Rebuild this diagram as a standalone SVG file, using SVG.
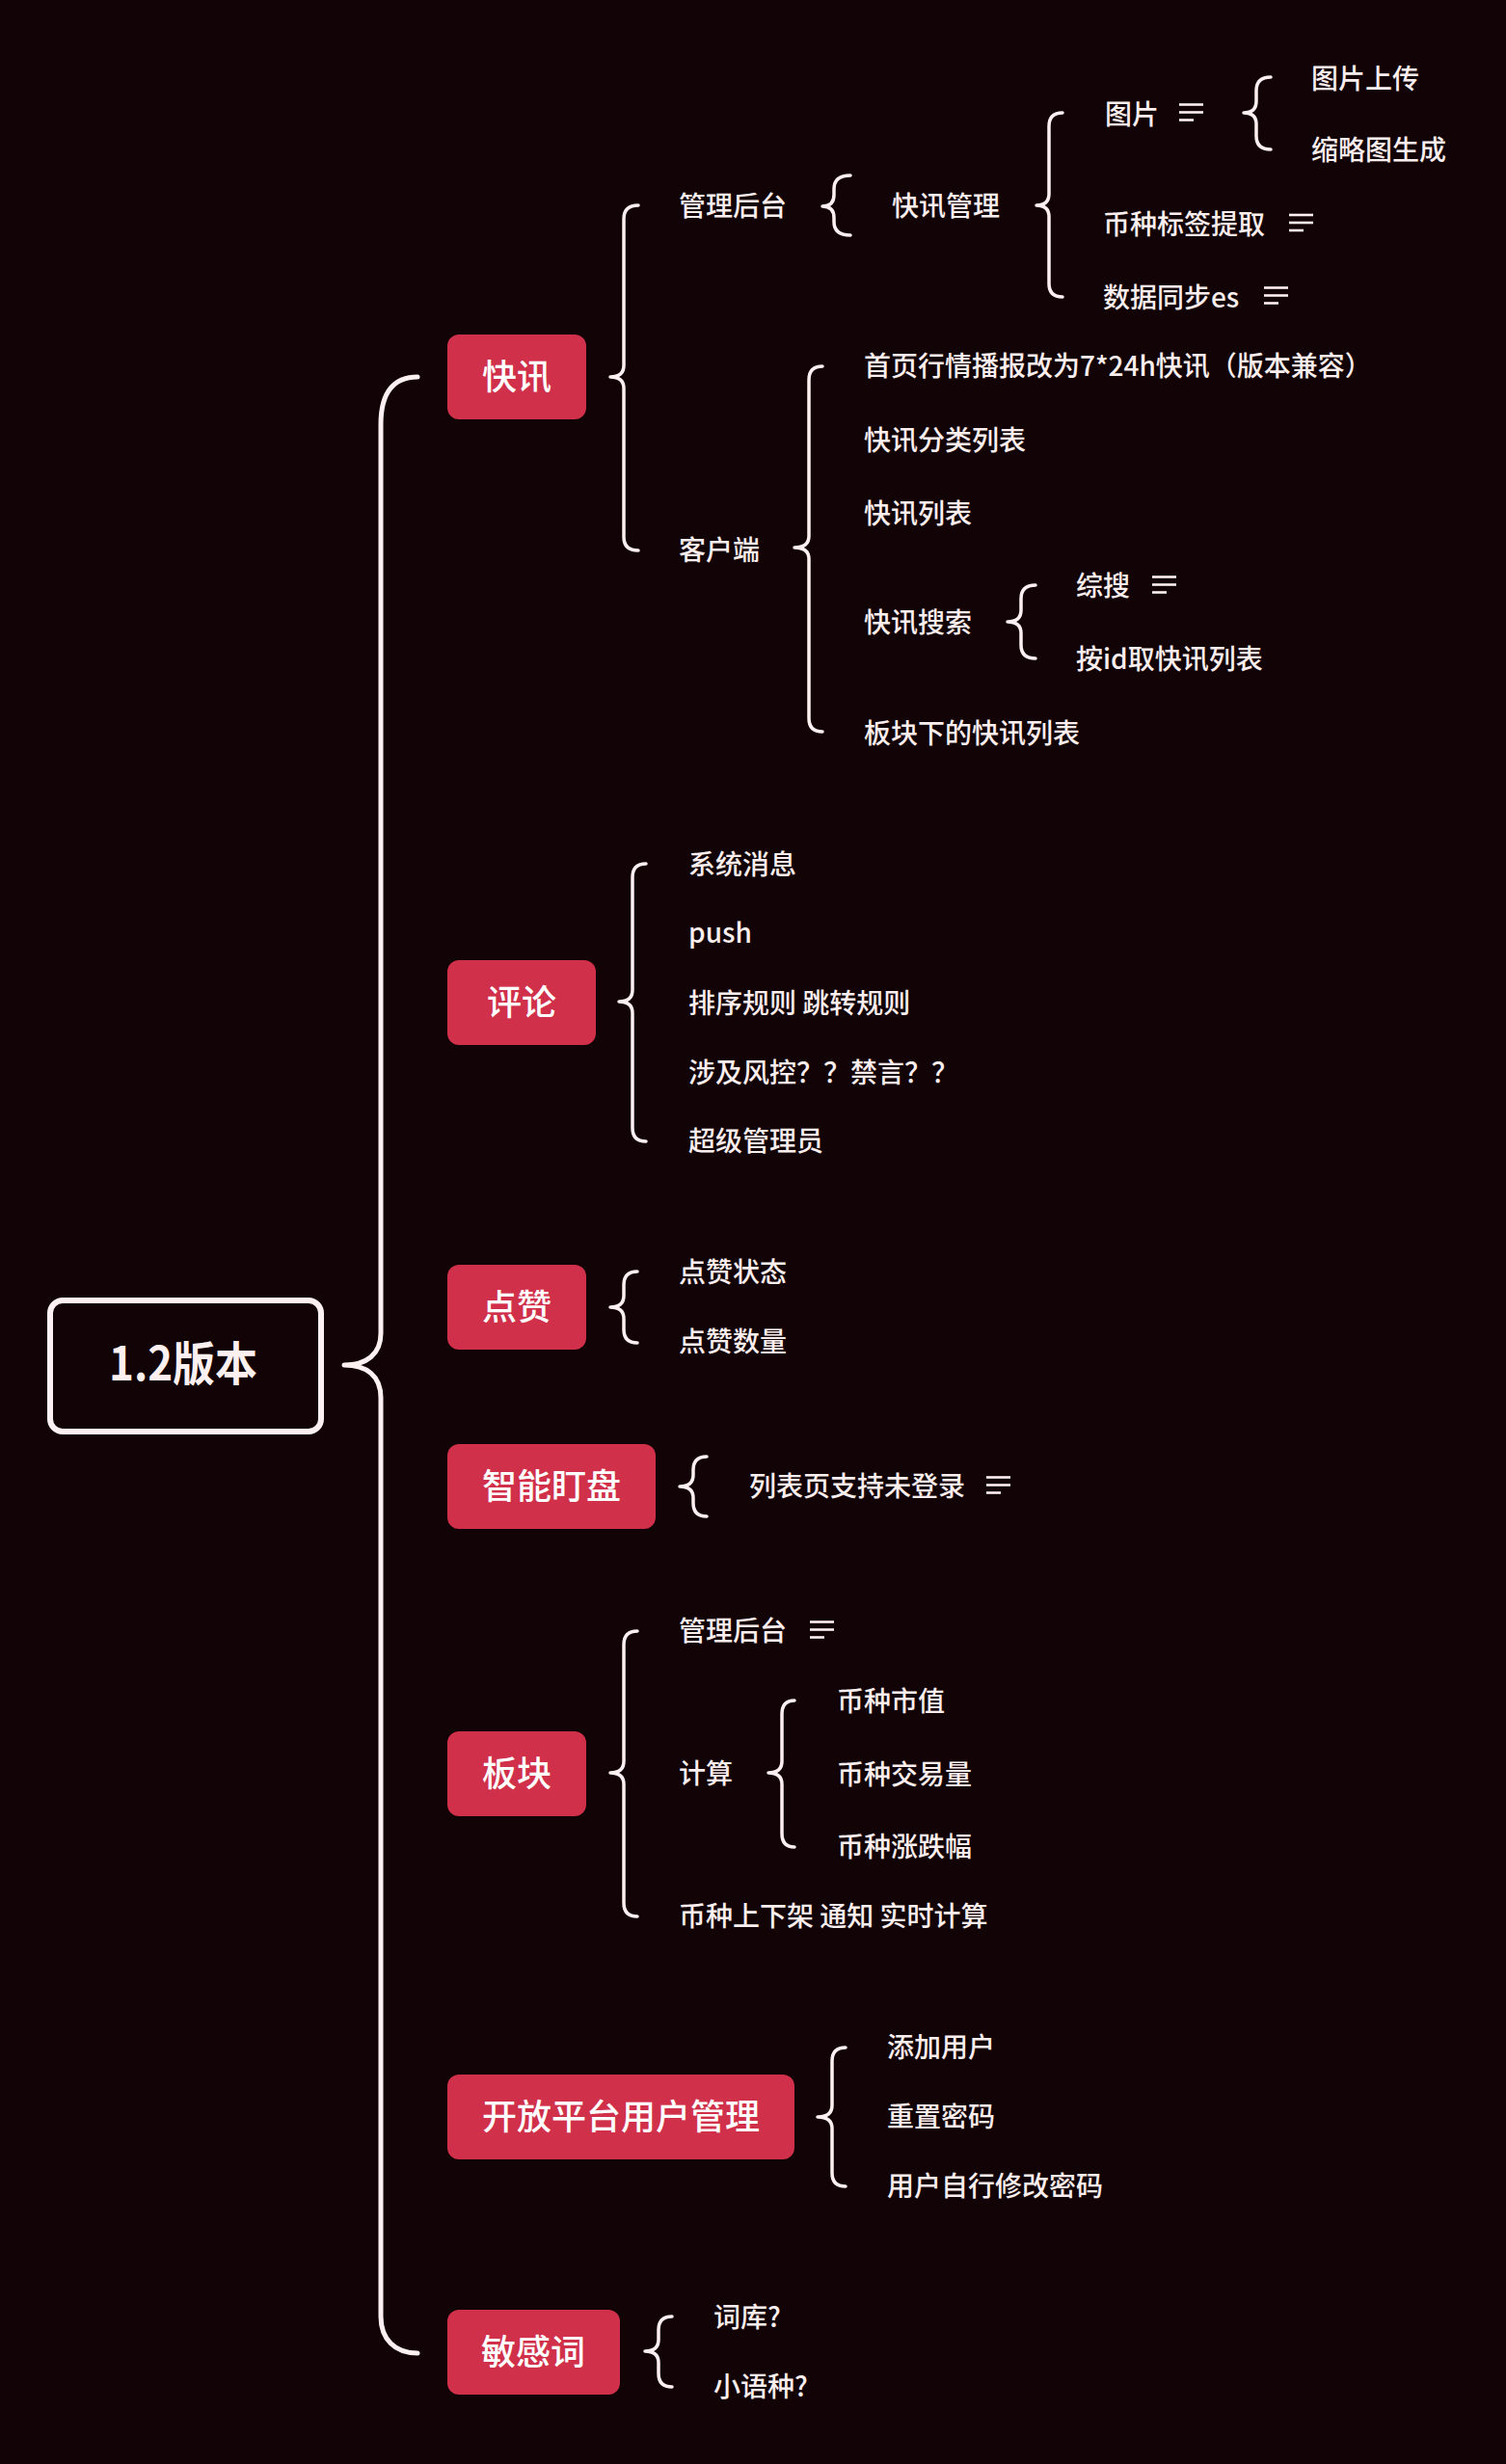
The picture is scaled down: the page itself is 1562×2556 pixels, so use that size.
<svg xmlns="http://www.w3.org/2000/svg" width="1562" height="2556" viewBox="0 0 1562 2556">
<defs>
<style>
.bg{fill:#120306}
.box{fill:#d0304a}
.nt{font-family:"Noto Sans CJK SC","Noto Sans",sans-serif;font-size:36px;font-weight:500;fill:#ffffff;text-anchor:middle}
.t{font-family:"Noto Sans CJK SC","Noto Sans",sans-serif;font-size:28px;font-weight:500;fill:#fbeeee}
.br{fill:none;stroke:#fdf0f0;stroke-width:3.5;stroke-linecap:round;stroke-linejoin:round}
.sp{fill:none;stroke:#fdf0f0;stroke-width:5;stroke-linecap:round;stroke-linejoin:round}
.ic{fill:none;stroke:#fdf0f0;stroke-width:2.6}
</style>
<g id="note-icon"><line class="ic" x1="0" y1="-8" x2="25" y2="-8"/><line class="ic" x1="0" y1="0" x2="25" y2="0"/><line class="ic" x1="0" y1="8" x2="15" y2="8"/></g>
</defs>
<rect class="bg" x="0" y="0" width="1562" height="2556"/>

<g id="connectors">
<path class="sp" d="M433,391 C410,391 395,405 395,440 L395,1383 C395,1405 380,1416 357,1416 C380,1416 395,1427 395,1450 L395,2403 C395,2427 410,2441 433,2441"/>
<path class="br" d="M662,213 Q647,213 647,227 L647,379 Q647,391 633,391 Q647,391 647,403 L647,557 Q647,571 662,571"/>
<path class="br" d="M882,182 Q865,182 865,196 L865,202 Q865,214 853,214 Q865,214 865,226 L865,230 Q865,244 882,244"/>
<path class="br" d="M1102,117 Q1088,117 1088,131 L1088,201 Q1088,213 1075,213 Q1088,213 1088,225 L1088,294 Q1088,308 1102,308"/>
<path class="br" d="M1318,80 Q1303,80 1303,94 L1303,105 Q1303,117 1290,117 Q1303,117 1303,129 L1303,141 Q1303,155 1318,155"/>
<path class="br" d="M853,380 Q839,380 839,394 L839,556 Q839,568 824,568 Q839,568 839,580 L839,745 Q839,759 853,759"/>
<path class="br" d="M1074,607 Q1059,607 1059,621 L1059,633 Q1059,645 1045,645 Q1059,645 1059,657 L1059,669 Q1059,683 1074,683"/>
<path class="br" d="M670,896 Q656,896 656,910 L656,1027 Q656,1039 642,1039 Q656,1039 656,1051 L656,1170 Q656,1184 670,1184"/>
<path class="br" d="M661,1319 Q647,1319 647,1333 L647,1344 Q647,1356 633,1356 Q647,1356 647,1368 L647,1379 Q647,1393 661,1393"/>
<path class="br" d="M733,1511 Q719,1511 719,1525 L719,1530 Q719,1542 705,1542 Q719,1542 719,1554 L719,1559 Q719,1573 733,1573"/>
<path class="br" d="M661,1692 Q647,1692 647,1706 L647,1827 Q647,1839 633,1839 Q647,1839 647,1851 L647,1974 Q647,1988 661,1988"/>
<path class="br" d="M824,1764 Q811,1764 811,1778 L811,1827 Q811,1839 797,1839 Q811,1839 811,1851 L811,1902 Q811,1916 824,1916"/>
<path class="br" d="M877,2124 Q863,2124 863,2138 L863,2184 Q863,2196 848,2196 Q863,2196 863,2208 L863,2254 Q863,2268 877,2268"/>
<path class="br" d="M697,2403 Q683,2403 683,2417 L683,2427 Q683,2439 669,2439 Q683,2439 683,2451 L683,2462 Q683,2476 697,2476"/>
</g>

<g id="root">
<rect x="52" y="1349" width="281" height="136" rx="13" fill="none" stroke="#fdf0f0" stroke-width="6"/>
<text x="190" y="1432" font-family="'Noto Sans CJK SC','Noto Sans',sans-serif" font-size="48" font-weight="700" fill="#fdf0f0" text-anchor="middle" textLength="154" lengthAdjust="spacingAndGlyphs">1.2版本</text>
</g>

<g id="n-kuaixun"><rect class="box" x="464" y="347" width="144" height="88" rx="12"/><text class="nt" x="536" y="404">快讯</text></g>
<g id="n-pinglun"><rect class="box" x="464" y="996" width="154" height="88" rx="12"/><text class="nt" x="541" y="1053">评论</text></g>
<g id="n-dianzan"><rect class="box" x="464" y="1312" width="144" height="88" rx="12"/><text class="nt" x="536" y="1369">点赞</text></g>
<g id="n-zhineng"><rect class="box" x="464" y="1498" width="216" height="88" rx="12"/><text class="nt" x="572" y="1555">智能盯盘</text></g>
<g id="n-bankuai"><rect class="box" x="464" y="1796" width="144" height="88" rx="12"/><text class="nt" x="536" y="1853">板块</text></g>
<g id="n-kaifang"><rect class="box" x="464" y="2152" width="360" height="88" rx="12"/><text class="nt" x="644" y="2209">开放平台用户管理</text></g>
<g id="n-minganci"><rect class="box" x="464" y="2396" width="179" height="88" rx="12"/><text class="nt" x="553" y="2453">敏感词</text></g>

<g id="kx-children">
<text class="t" x="704" y="224">管理后台</text>
<text class="t" x="925" y="224">快讯管理</text>
<text class="t" x="1146" y="129">图片</text>
<use href="#note-icon" x="1223" y="116.5"/>
<text class="t" x="1360" y="92">图片上传</text>
<text class="t" x="1360" y="166">缩略图生成</text>
<text class="t" x="1144" y="243">币种标签提取</text>
<use href="#note-icon" x="1337" y="231"/>
<text class="t" x="1144" y="319">数据同步es</text>
<use href="#note-icon" x="1311" y="306.5"/>
<text class="t" x="704" y="581">客户端</text>
<text class="t" x="896" y="390">首页行情播报改为7*24h快讯（版本兼容）</text>
<text class="t" x="896" y="467">快讯分类列表</text>
<text class="t" x="896" y="543">快讯列表</text>
<text class="t" x="896" y="656">快讯搜索</text>
<text class="t" x="1116" y="618">综搜</text>
<use href="#note-icon" x="1195" y="606.5"/>
<text class="t" x="1116" y="694">按id取快讯列表</text>
<text class="t" x="896" y="771">板块下的快讯列表</text>
</g>

<g id="pl-children">
<text class="t" x="714" y="907">系统消息</text>
<text class="t" x="714" y="978">push</text>
<text class="t" x="714" y="1051">排序规则 跳转规则</text>
<text class="t" x="714" y="1123">涉及风控？？禁言？？</text>
<text class="t" x="714" y="1194">超级管理员</text>
</g>

<g id="dz-children">
<text class="t" x="704" y="1330">点赞状态</text>
<text class="t" x="704" y="1402">点赞数量</text>
</g>

<g id="zn-children">
<text class="t" x="777" y="1552">列表页支持未登录</text>
<use href="#note-icon" x="1023" y="1540.5"/>
</g>

<g id="bk-children">
<text class="t" x="704" y="1702">管理后台</text>
<use href="#note-icon" x="840" y="1690.5"/>
<text class="t" x="704" y="1850">计算</text>
<text class="t" x="868" y="1775">币种市值</text>
<text class="t" x="868" y="1851">币种交易量</text>
<text class="t" x="868" y="1926">币种涨跌幅</text>
<text class="t" x="704" y="1998">币种上下架 通知 实时计算</text>
</g>

<g id="kf-children">
<text class="t" x="920" y="2134">添加用户</text>
<text class="t" x="920" y="2206">重置密码</text>
<text class="t" x="920" y="2278">用户自行修改密码</text>
</g>

<g id="mg-children">
<text class="t" x="740" y="2414">词库?</text>
<text class="t" x="740" y="2486">小语种?</text>
</g>
</svg>
